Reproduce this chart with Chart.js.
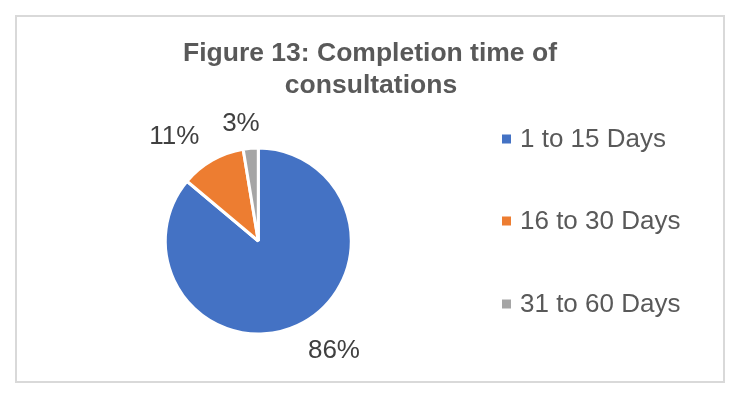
<!DOCTYPE html>
<html>
<head>
<meta charset="utf-8">
<script src="https://cdn.jsdelivr.net/npm/chart.js@4/dist/chart.umd.min.js"></script>
<style>
  html, body { margin: 0; padding: 0; background: #ffffff; }
  #wrap { width: 744px; height: 396px; position: relative; }
</style>
</head>
<body>
<div id="wrap"><canvas id="c" width="744" height="396"></canvas></div>
<script>
// ---- data ----
const categories = ["1 to 15 Days", "16 to 30 Days", "31 to 60 Days"];
const values = [86.1, 11.3, 2.6];
const titleLines = ["Figure 13: Completion time of", "consultations"];

// ---- styles ----
const colors = ["#4472C4", "#ED7D31", "#A5A5A5"];
const FONT = '"Liberation Sans", Arial, sans-serif';
// label nudges relative to outside-end anchor (styling only)
const labelNudge = [[27, 5], [-27, -5], [-8, -4]];

const total = values.reduce((a, b) => a + b, 0);

const decor = {
  id: 'decor',
  afterDraw(chart) {
    const ctx = chart.ctx;
    ctx.save();
    // frame
    ctx.strokeStyle = '#d9d9d9';
    ctx.lineWidth = 2;
    ctx.strokeRect(16, 16, 708, 366);
    // title
    ctx.fillStyle = '#595959';
    ctx.font = 'bold 26.5px ' + FONT;
    ctx.textAlign = 'center';
    ctx.textBaseline = 'alphabetic';
    ctx.fillText(titleLines[0], 370, 61);
    ctx.fillText(titleLines[1], 371, 93);
    // data labels
    const meta = chart.getDatasetMeta(0);
    ctx.font = '26px ' + FONT;
    ctx.fillStyle = '#404040';
    ctx.textBaseline = 'middle';
    meta.data.forEach((arc, i) => {
      const p = arc.getProps(['x', 'y', 'startAngle', 'endAngle', 'outerRadius'], true);
      const mid = (p.startAngle + p.endAngle) / 2;
      const r = p.outerRadius + 22;
      const x = p.x + Math.cos(mid) * r + labelNudge[i][0];
      const y = p.y + Math.sin(mid) * r + labelNudge[i][1];
      const pct = Math.round(values[i] / total * 100) + '%';
      ctx.fillText(pct, x, y + 1);
    });
    // legend
    ctx.textAlign = 'left';
    const rows = [139, 221, 304];
    categories.forEach((c, i) => {
      ctx.fillStyle = colors[i];
      ctx.fillRect(502, rows[i] - 4.5, 9, 9);
      ctx.fillStyle = '#595959';
      ctx.fillText(c, 520, rows[i] + 1);
    });
    ctx.restore();
  }
};

new Chart(document.getElementById('c'), {
  type: 'pie',
  data: {
    labels: categories,
    datasets: [{
      data: values,
      backgroundColor: colors,
      borderColor: '#ffffff',
      borderWidth: 3
    }]
  },
  options: {
    responsive: false,
    animation: false,
    radius: 93,
    layout: { padding: { left: 160, right: 387.4, top: 144, bottom: 58 } },
    plugins: {
      legend: { display: false },
      title: { display: false },
      tooltip: { enabled: false }
    }
  },
  plugins: [decor]
});
</script>
</body>
</html>
